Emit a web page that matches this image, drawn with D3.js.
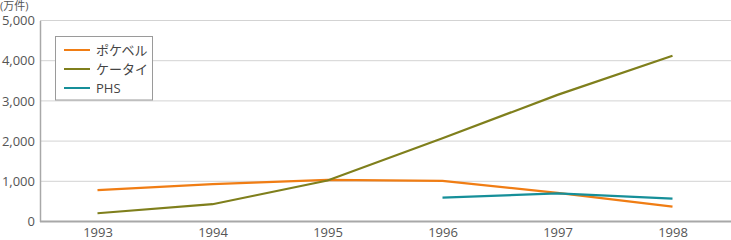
<!DOCTYPE html>
<html>
<head>
<meta charset="utf-8">
<script src="https://cdn.jsdelivr.net/npm/d3@7"></script>
<style>
  body { margin: 0; background: #fff; }
  text { font-family: "Open Sans", "Noto Sans CJK JP", sans-serif; }
</style>
</head>
<body>
<script>
const WIDTH = 731;
const HEIGHT = 240;

var YEARS = ["1993", "1994", "1995", "1996", "1997", "1998"];
var POCKEBELL = [780, 930, 1035, 1010, 710, 370];
var KEITAI = [205, 430, 1020, 2070, 3150, 4125];
var PHS = [null, null, null, 595, 700, 570];
var Y_TICKS = [0, 1000, 2000, 3000, 4000, 5000];
var SERIES_NAMES = ["ポケベル", "ケータイ", "PHS"];
var COLORS = ["#f07d14", "#7f7f1c", "#168f99"];

var series = [POCKEBELL, KEITAI, PHS];

var margin = {left: 40, right: 1, top: 20.5, bottom: 18.5};

//DEFINE xScale
var xScale = d3
  .scalePoint()
  .domain(YEARS)
  .range([margin.left, WIDTH - margin.right])
  .padding(0.5);

//DEFINE yScale
var yScale = d3
  .scaleLinear()
  .domain([0, 5000])
  .range([HEIGHT - margin.bottom, margin.top]);

var svg = d3
  .select("body")
  .append("svg")
  .attr("width", WIDTH)
  .attr("height", HEIGHT);

//gridlines
svg.append("g")
  .selectAll("line")
  .data(Y_TICKS.slice(1))
  .enter()
  .append("line")
  .attr("x1", margin.left)
  .attr("x2", WIDTH)
  .attr("y1", (d) => yScale(d))
  .attr("y2", (d) => yScale(d))
  .attr("stroke", "#d3d3d3")
  .attr("stroke-width", 1);

//y axis
var yAxis = svg.append("g")
  .attr("transform", "translate(" + margin.left + ",0)")
  .call(d3.axisLeft(yScale).tickValues(Y_TICKS).tickSize(0).tickPadding(5).tickFormat(d3.format(",")));
yAxis.select(".domain").attr("stroke", "#a8a8a8").attr("stroke-width", 1.5);
yAxis.selectAll("text")
  .attr("font-size", "13px")
  .attr("fill", "#555");

//x axis
var xAxis = svg.append("g")
  .attr("transform", "translate(0," + yScale(0) + ")")
  .call(d3.axisBottom(xScale).tickSize(0).tickPadding(6));
xAxis.select(".domain")
  .attr("d", "M" + margin.left + ",0H" + WIDTH)
  .attr("stroke", "#a8a8a8")
  .attr("stroke-width", 2);
xAxis.selectAll("text")
  .attr("font-size", "13px")
  .attr("fill", "#555");

//unit label
svg.append("text")
  .text("(万件)")
  .attr("x", 0)
  .attr("y", 10)
  .attr("font-size", "11px")
  .attr("fill", "#555");

//lines
var line = d3.line()
  .defined((d) => d != null)
  .x((d, i) => xScale(YEARS[i]))
  .y((d) => yScale(d));

svg.selectAll(".series")
  .data(series)
  .enter()
  .append("path")
  .attr("class", "series")
  .attr("d", (d) => line(d))
  .attr("fill", "none")
  .attr("stroke", (d, i) => COLORS[i])
  .attr("stroke-width", 2.2);

//legend
var legend = svg.append("g");
legend.append("rect")
  .attr("x", 55.5)
  .attr("y", 36.5)
  .attr("width", 97)
  .attr("height", 63.5)
  .attr("fill", "#fff")
  .attr("stroke", "#9a9a9a")
  .attr("stroke-width", 1);

var items = legend.selectAll(".item")
  .data(SERIES_NAMES)
  .enter()
  .append("g")
  .attr("transform", (d, i) => "translate(64," + (50 + i * 19) + ")");
items.append("line")
  .attr("x1", 0)
  .attr("x2", 26)
  .attr("stroke", (d, i) => COLORS[i])
  .attr("stroke-width", 2);
items.append("text")
  .text((d) => d)
  .attr("x", 32)
  .attr("dy", "0.35em")
  .attr("font-size", "13px")
  .attr("fill", "#444");
</script>
</body>
</html>
